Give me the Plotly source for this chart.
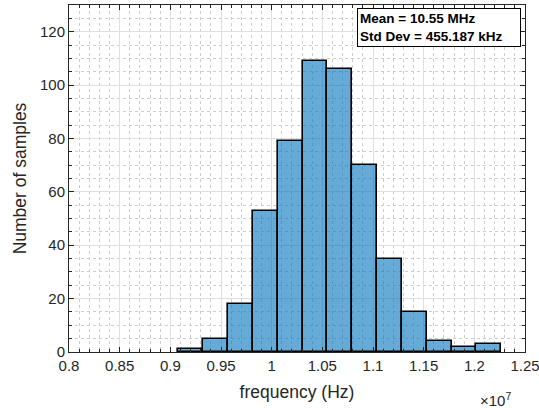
import plotly.graph_objects as go

# ---- data ----
bin_start = 0.9080e7          # Hz, left edge of first bin
bin_width = 0.0245e7          # Hz
counts = [1, 5, 18, 53, 79, 109, 106, 70, 35, 15, 4, 2, 3]
x_tick_vals = [0.8e7, 0.85e7, 0.9e7, 0.95e7, 1.0e7, 1.05e7, 1.1e7, 1.15e7, 1.2e7, 1.25e7]
x_tick_text = ["0.8", "0.85", "0.9", "0.95", "1", "1.05", "1.1", "1.15", "1.2", "1.25"]
y_tick_vals = [0, 20, 40, 60, 80, 100, 120]
stats_text = ["Mean = 10.55 MHz", "Std Dev = 455.187 kHz"]

centers = [bin_start + bin_width * (i + 0.5) for i in range(len(counts))]

FONT = "Liberation Sans, Arial, Helvetica, sans-serif"
AX = "rgb(38,38,38)"

fig = go.Figure()
fig.add_trace(go.Bar(
    x=centers, y=counts, width=[bin_width] * len(counts),
    marker=dict(color="rgba(0,114,189,0.6)", line=dict(color="black", width=1.6)),
    showlegend=False, hoverinfo="skip",
))

axis_common = dict(
    showline=True, linecolor=AX, linewidth=1, mirror="allticks",
    ticks="inside", ticklen=5, tickcolor=AX, tickwidth=1,
    showgrid=True, gridcolor="rgb(223,223,223)", gridwidth=1,
    zeroline=False, automargin=False, ticklabeloverflow="allow",
    tickfont=dict(family=FONT, size=15, color=AX),
)

fig.update_xaxes(
    range=[0.8e7, 1.25e7], tickvals=x_tick_vals, ticktext=x_tick_text,
    title=dict(text="frequency (Hz)", font=dict(family=FONT, size=17.5, color=AX), standoff=12),
    minor=dict(dtick=0.01e7, tick0=0.8e7, ticks="inside", ticklen=3, tickcolor=AX,
               showgrid=True, gridcolor="rgb(205,205,205)", griddash="dot", gridwidth=1),
    **axis_common,
)
fig.update_yaxes(
    range=[0, 130], tickvals=y_tick_vals,
    title=dict(text="Number of samples", font=dict(family=FONT, size=17.5, color=AX), standoff=8),
    minor=dict(dtick=5, tick0=0, ticks="inside", ticklen=3, tickcolor=AX,
               showgrid=True, gridcolor="rgb(205,205,205)", griddash="dot", gridwidth=1),
    **axis_common,
)

fig.add_annotation(
    xref="paper", yref="paper", x=0.991, y=0.991, xanchor="right", yanchor="top",
    text="<b>" + "<br>".join(stats_text) + "</b>", align="left", showarrow=False,
    width=158,
    font=dict(family=FONT, size=13.5, color="black"),
    bgcolor="white", bordercolor="black", borderwidth=1, borderpad=2,
)
fig.add_annotation(
    xref="paper", yref="paper", x=0.974, y=-0.104, xanchor="right", yanchor="top",
    text="×10<sup>7</sup>", showarrow=False,
    font=dict(family=FONT, size=15, color=AX),
)

fig.update_layout(
    width=539, height=408,
    margin=dict(l=69, r=14, t=5, b=56),
    plot_bgcolor="white", paper_bgcolor="white",
    bargap=0,
)

fig.write_html("out.html", config={"displayModeBar": False},
               post_script="document.body.style.margin='0px';")
